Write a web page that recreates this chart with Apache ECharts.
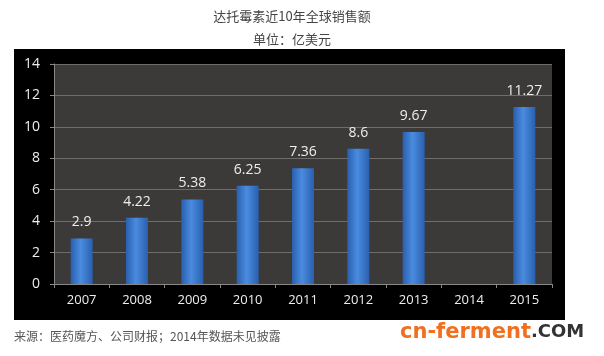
<!DOCTYPE html>
<html><head><meta charset="utf-8">
<script src="https://cdn.jsdelivr.net/npm/echarts@6/dist/echarts.min.js"></script>
<style>html,body{margin:0;padding:0;background:#fff}#c{width:604px;height:356px}</style>
</head><body><div id="c"></div>
<script>
const categories = ['2007','2008','2009','2010','2011','2012','2013','2014','2015'];
const sales = [2.9, 4.22, 5.38, 6.25, 7.36, 8.6, 9.67, null, 11.27];
const yTicks = [0, 2, 4, 6, 8, 10, 12, 14];

const chart = echarts.init(document.getElementById('c'));
const font = '"Noto Sans CJK SC","Microsoft YaHei",sans-serif';
chart.setOption({
  backgroundColor: '#fff',
  animation: false,
  title: [
    {text: '达托霉素近10年全球销售额', left: 287, top: 5, textAlign: 'center',
     textStyle: {fontSize: 13, fontWeight: 'normal', color: '#444', fontFamily: font}},
    {text: '单位：亿美元', left: 287, top: 28, textAlign: 'center',
     textStyle: {fontSize: 13, fontWeight: 'normal', color: '#444', fontFamily: font}}
  ],
  graphic: [
    {type: 'rect', z: -10, shape: {x: 14, y: 49, width: 551, height: 271}, style: {fill: '#000'}},
    {type: 'text', left: 14, top: 330, style: {text: '来源：医药魔方、公司财报；2014年数据未见披露', fill: '#555', font: '12px ' + font}},
    {type: 'text', left: 400, top: 322, style: {
      rich: {a: {fill: '#f26f1f', fontSize: 21, fontWeight: 'bold', fontFamily: 'DejaVu Sans'},
             b: {fill: '#333', fontSize: 18, fontWeight: 'bold', fontFamily: 'DejaVu Sans'}},
      text: '{a|cn-ferment}{b|.COM}'}}
  ],
  grid: {left: 54, right: 52, top: 64, bottom: 72, show: true, backgroundColor: '#3b3a39', borderWidth: 0},
  xAxis: {
    type: 'category', data: categories,
    axisLine: {lineStyle: {color: '#888'}},
    axisTick: {show: true, lineStyle: {color: '#888'}, length: 4},
    axisLabel: {color: '#eee', fontSize: 13, margin: 10, fontFamily: '"Open Sans",sans-serif'}
  },
  yAxis: {
    type: 'value', min: 0, max: 14, interval: 2,
    axisLine: {show: true, lineStyle: {color: '#888'}},
    axisTick: {show: true, lineStyle: {color: '#888'}, length: 4},
    splitLine: {lineStyle: {color: '#6e6d6b'}},
    axisLabel: {color: '#eee', fontSize: 14, margin: 14, fontFamily: '"Open Sans",sans-serif',
      formatter: v => yTicks.includes(v) ? String(v) : ''}
  },
  series: [{
    type: 'bar', data: sales, barWidth: 22,
    itemStyle: {
      color: {type: 'linear', x: 0, y: 0, x2: 1, y2: 0, colorStops: [
        {offset: 0, color: '#2a5fae'}, {offset: 0.45, color: '#4a8ce0'}, {offset: 1, color: '#2a5fae'}]},
      borderColor: 'rgba(150,200,255,0.5)', borderWidth: 0
    },
    label: {show: true, position: 'top', distance: 9, color: '#eee', fontSize: 14,
      fontFamily: '"Open Sans",sans-serif', formatter: p => String(p.value)}
  }]
});
</script></body></html>
